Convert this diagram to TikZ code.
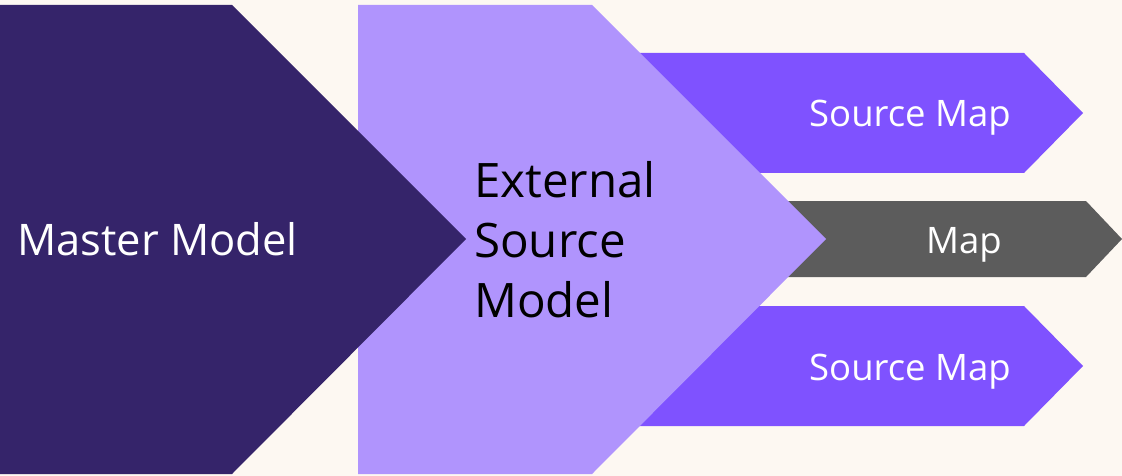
\documentclass[tikz,border=0pt]{standalone}
\usepackage{fontspec}
\setmainfont{Open Sans}
\definecolor{bgc}{HTML}{FDF8F2}
\definecolor{darkp}{HTML}{35246A}
\definecolor{lightp}{HTML}{B094FD}
\definecolor{midp}{HTML}{7F52FF}
\definecolor{grayc}{HTML}{5C5C5C}
\begin{document}
\begin{tikzpicture}[x=1pt,y=-1pt,
  lbl/.style={anchor=base west,inner sep=0pt,text=white},
  blbl/.style={anchor=base west,inner sep=0pt,text=black}]
\fill[bgc] (0,0) rectangle (1122,476);
\useasboundingbox (0,0) rectangle (1122,476);
% maps (behind)
\fill[midp] (600,53) -- (1024,53) -- (1083,113) -- (1024,173) -- (600,173) -- cycle;
\fill[grayc] (700,201) -- (1086,201) -- (1122,239) -- (1086,277) -- (700,277) -- cycle;
\fill[midp] (600,306) -- (1024,306) -- (1083,366) -- (1024,426) -- (600,426) -- cycle;
% external source model
\fill[lightp] (358,5) -- (592,5) -- (826,239) -- (592,474) -- (358,474) -- cycle;
% master model
\fill[darkp] (0,5) -- (232,5) -- (466,239) -- (232,474) -- (0,474) -- cycle;
\node[lbl,font=\fontsize{43.5}{50}\selectfont] (mm) at (17,255) {Master Model};
\node[blbl,font=\fontsize{47.5}{58}\selectfont] (e1) at (474,197) {External};
\node[blbl,font=\fontsize{47.5}{58}\selectfont] (e2) at (474,257) {Source};
\node[blbl,font=\fontsize{47.5}{58}\selectfont] (e3) at (474,317) {Model};
\node[lbl,font=\fontsize{36.5}{44}\selectfont] (s1) at (809,127) {Source Map};
\node[lbl,font=\fontsize{36.5}{44}\selectfont] (m) at (926,253) {Map};
\node[lbl,font=\fontsize{36.5}{44}\selectfont] (s2) at (809,380) {Source Map};
\end{tikzpicture}
\end{document}
